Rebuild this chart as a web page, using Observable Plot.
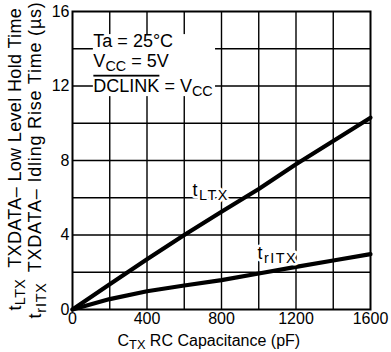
<!DOCTYPE html>
<html>
<head>
<meta charset="utf-8">
<script src="https://cdn.jsdelivr.net/npm/d3@7"></script>
<script src="https://cdn.jsdelivr.net/npm/@observablehq/plot@0.6"></script>
<style>
  html, body { margin: 0; padding: 0; background: white; }
  #chart { width: 391px; height: 352px; }
</style>
</head>
<body>
<div id="chart"></div>
<script>
// ---- data ----
const capacitance = [0, 200, 400, 600, 800, 1000, 1200, 1400, 1600];
const tLTX  = [0, 1.35, 2.7, 4.0, 5.25, 6.47, 7.8, 9.05, 10.3];
const trITX = [0, 0.56, 0.98, 1.29, 1.58, 1.93, 2.29, 2.63, 2.97];

const xTicks = [0, 400, 800, 1200, 1600];
const yTicks = [0, 4, 8, 12, 16];
const xGrid = [200, 400, 600, 800, 1000, 1200, 1400];
const yGrid = [2, 4, 6, 8, 10, 12, 14];

const xLabel = "CTX RC Capacitance (pF)";
const yLabel1 = "tLTX TXDATA– Low Level Hold Time";
const yLabel2 = "trITX TXDATA– Idling Rise Time (µs)";
const curveNames = ["tLTX", "trITX"];
const noteLines = ["Ta = 25°C", "VCC = 5V", "DCLINK = VCC"];

// ---- tables built from the arrays ----
const series = [
  ...capacitance.map((c, i) => ({c, v: tLTX[i], s: curveNames[0]})),
  ...capacitance.map((c, i) => ({c, v: trITX[i], s: curveNames[1]}))
];
const curveLabelPos = [{x: 644, y: 6.43}, {x: 993, y: 3.04}];
const curveLabels = curveNames.map((n, i) => ({name: n, ...curveLabelPos[i]}));
const notePos = [14.42, 13.35, 12.0];
const notes = noteLines.map((t, i) => ({t, y: notePos[i]}));
const noteBox = [{x1: 112, x2: 768, y1: 11.43, y2: 14.76}];

const font = "'Liberation Sans', Arial, Helvetica, sans-serif";

const svg = Plot.plot({
  width: 391,
  height: 352,
  marginLeft: 72,
  marginRight: 21,
  marginTop: 11,
  marginBottom: 43,
  style: {fontFamily: font, fontSize: "16px", background: "white", color: "black"},
  x: {domain: [0, 1600], ticks: xTicks, tickFormat: d3.format("d"), tickSize: 0, tickPadding: 3, label: null},
  y: {domain: [0, 16], ticks: yTicks, tickFormat: d3.format("d"), tickSize: 0, tickPadding: 3, label: null},
  marks: [
    Plot.ruleX(xGrid, {stroke: "black", strokeWidth: 1.4}),
    Plot.ruleY(yGrid, {stroke: "black", strokeWidth: 1.4}),
    Plot.rect(noteBox, {x1: "x1", x2: "x2", y1: "y1", y2: "y2", fill: "white"}),
    Plot.frame({stroke: "black", strokeWidth: 2}),
    Plot.line(series, {x: "c", y: "v", z: "s", stroke: "black", strokeWidth: 4.2, strokeLinecap: "round"}),
    Plot.text(curveLabels, {x: "x", y: "y", text: "name", textAnchor: "start", lineAnchor: "middle",
      fontSize: 18, fill: "black", stroke: "white", strokeWidth: 5}),
    Plot.text(notes, {x: 112, y: "y", text: "t", textAnchor: "start", lineAnchor: "middle",
      fontSize: 18, fill: "black"}),
    Plot.text([xLabel], {text: d => d, frameAnchor: "bottom-left", textAnchor: "start", lineAnchor: "bottom",
      dx: 45, dy: 36, fontSize: 16, fill: "black"}),
    Plot.text([yLabel1], {text: d => d, frameAnchor: "bottom-left", rotate: -90, textAnchor: "start",
      lineAnchor: "middle", dx: -57.5, dy: 1, fontSize: 18, fill: "black"}),
    Plot.text([yLabel2], {text: d => d, frameAnchor: "bottom-left", rotate: -90, textAnchor: "start",
      lineAnchor: "middle", dx: -37, dy: 9, fontSize: 18, fill: "black"})
  ]
});

// rich text: subscripts and overline
function richify(content, parts) {
  return d3.select(svg).selectAll("text").filter(function () { return this.textContent === content; })
    .each(function () {
      const t = d3.select(this);
      t.text(null);
      let shifted = false;
      parts.forEach(p => {
        const s = t.append("tspan").text(p.text);
        if (p.sub) { s.attr("font-size", "80%").attr("dy", "0.3em"); shifted = true; }
        else if (shifted) { s.attr("dy", "-0.24em"); shifted = false; }
        if (p.over) s.style("text-decoration", "overline");
        if (p.dx) s.attr("dx", p.dx);
      });
    });
}
richify(xLabel, [{text: "C"}, {text: "TX", sub: true}, {text: " RC Capacitance (pF)"}]);
richify(yLabel1, [{text: "t"}, {text: "LTX", sub: true}, {text: "TXDATA– Low Level Hold Time", dx: 11}])
  .style("letter-spacing", "0.35px");
richify(yLabel2, [{text: "t"}, {text: "rITX", sub: true}, {text: "TXDATA– Idling Rise Time (µs)", dx: 10}])
  .style("letter-spacing", "0.8px");
richify(curveNames[0], [{text: "t"}, {text: "LTX", sub: true}]).style("letter-spacing", "1.5px");
richify(curveNames[1], [{text: "t"}, {text: "rITX", sub: true}]).style("letter-spacing", "1.5px");
richify(noteLines[1], [{text: "V"}, {text: "CC", sub: true}, {text: " = 5V"}]);
richify(noteLines[2], [{text: "DCLINK", over: true}, {text: " = V"}, {text: "CC", sub: true}]);

document.getElementById("chart").appendChild(svg);
</script>
</body>
</html>
